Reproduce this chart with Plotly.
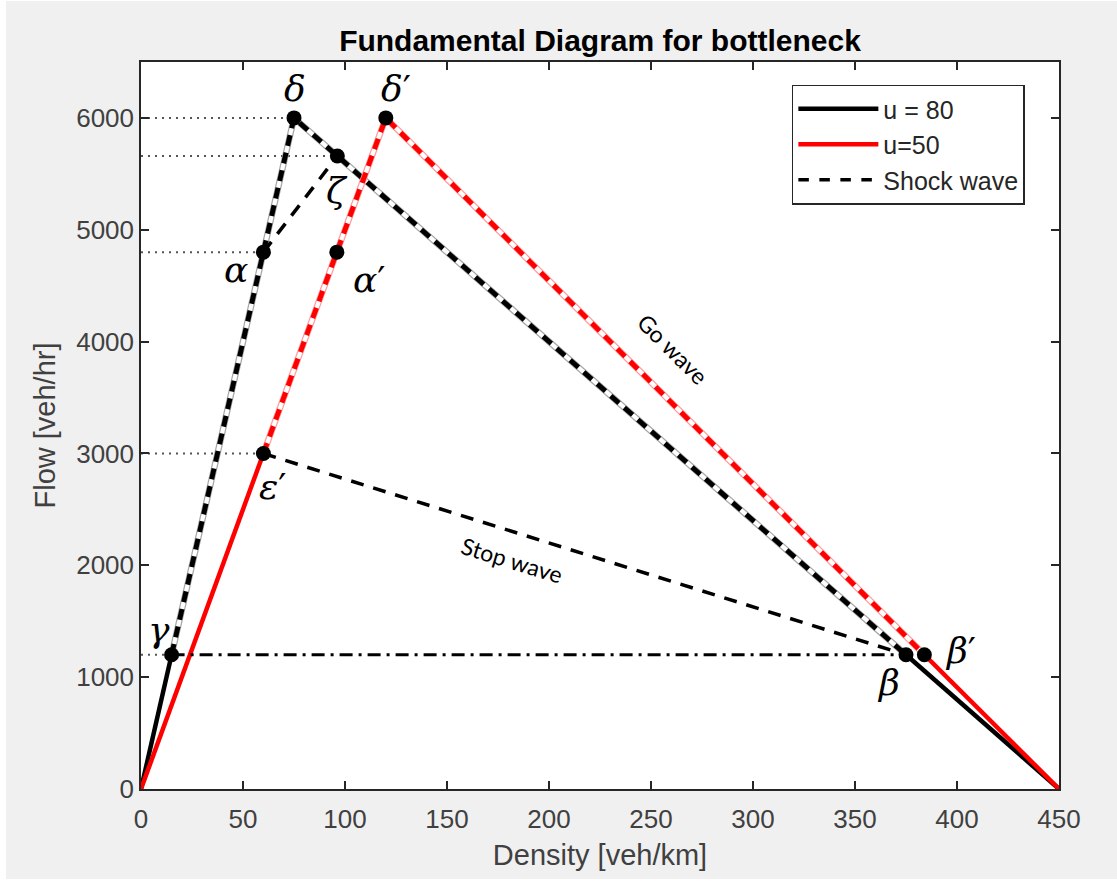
import plotly.graph_objects as go

# ---------------- data ----------------
u80_density = [0, 15, 75, 375, 450]
u80_flow = [0, 1200, 6000, 1200, 0]
u50_density = [0, 60, 120, 384, 450]
u50_flow = [0, 3000, 6000, 1200, 0]

point_names = ["γ", "α", "δ", "ζ", "δ′", "α′", "ε′", "β", "β′"]
point_density = [15, 60, 75, 96.25, 120, 96, 60, 375, 384]
point_flow = [1200, 4800, 6000, 5660, 6000, 4800, 3000, 1200, 1200]
label_shift_x = [-13, -27, 1, 0, 10, 33, 10, -18, 36]
label_shift_y = [25, -17, 29, -35, 29, -27, -33, -28, 4]

stop_density = [60, 375]
stop_flow = [3000, 1200]
alpha_zeta_density = [60, 96.25]
alpha_zeta_flow = [4800, 5660]
level_density = [15, 375]
level_flow = [1200, 1200]

guide_density = [75, 96.25, 60, 60, 15]
guide_flow = [6000, 5660, 4800, 3000, 1200]

x_ticks = [0, 50, 100, 150, 200, 250, 300, 350, 400, 450]
y_ticks = [0, 1000, 2000, 3000, 4000, 5000, 6000]

FONT = "Liberation Sans, Arial, sans-serif"
fig = go.Figure()

# dotted guides
for d, f in zip(guide_density, guide_flow):
    fig.add_trace(go.Scatter(x=[0, d], y=[f, f], mode="lines", showlegend=False,
                             line=dict(color="#555555", width=2, dash="2px,5px"),
                             hoverinfo="skip"))


def outlined(xs, ys, col, edge):
    fig.add_trace(go.Scatter(x=xs, y=ys, mode="lines", showlegend=False,
                             line=dict(color=edge, width=6.5), hoverinfo="skip"))
    fig.add_trace(go.Scatter(x=xs, y=ys, mode="lines", showlegend=False,
                             line=dict(color="white", width=4), hoverinfo="skip"))
    fig.add_trace(go.Scatter(x=xs, y=ys, mode="lines", showlegend=False,
                             line=dict(color=col, width=5, dash="11px,7px"), hoverinfo="skip"))


# u = 80 (black)
fig.add_trace(go.Scatter(x=u80_density[0:2], y=u80_flow[0:2], mode="lines", showlegend=False,
                         line=dict(color="black", width=4.5)))
fig.add_trace(go.Scatter(x=u80_density[3:5], y=u80_flow[3:5], mode="lines", showlegend=False,
                         line=dict(color="black", width=4.5)))
outlined(u80_density[1:4], u80_flow[1:4], "black", "#a8a8a8")

# u = 50 (red)
fig.add_trace(go.Scatter(x=u50_density[0:2], y=u50_flow[0:2], mode="lines", showlegend=False,
                         line=dict(color="#ff0000", width=4.5)))
fig.add_trace(go.Scatter(x=u50_density[3:5], y=u50_flow[3:5], mode="lines", showlegend=False,
                         line=dict(color="#ff0000", width=4.5)))
outlined(u50_density[1:4], u50_flow[1:4], "#ff0000", "#ff9d9d")

# shock waves
fig.add_trace(go.Scatter(x=stop_density, y=stop_flow, mode="lines", showlegend=False,
                         line=dict(color="black", width=3.5, dash="13px,10px")))
fig.add_trace(go.Scatter(x=alpha_zeta_density, y=alpha_zeta_flow, mode="lines", showlegend=False,
                         line=dict(color="black", width=3.5, dash="13px,10px")))
fig.add_trace(go.Scatter(x=level_density, y=level_flow, mode="lines", showlegend=False,
                         line=dict(color="black", width=3, dash="13px,6px,3px,6px")))

# points
fig.add_trace(go.Scatter(x=point_density, y=point_flow, mode="markers", showlegend=False,
                         marker=dict(color="black", size=15)))

# legend entries
fig.add_trace(go.Scatter(x=[None], y=[None], mode="lines", name="u = 80",
                         line=dict(color="black", width=4.5)))
fig.add_trace(go.Scatter(x=[None], y=[None], mode="lines", name="u=50",
                         line=dict(color="#ff0000", width=4.5)))
fig.add_trace(go.Scatter(x=[None], y=[None], mode="lines", name="Shock wave",
                         line=dict(color="black", width=3.5, dash="dash")))


def greek_label(name):
    # italic letter, upright prime
    return "<i>" + name[0] + "</i>" + name[1:]


annotations = []
for n, d, f, sx, sy in zip(point_names, point_density, point_flow, label_shift_x, label_shift_y):
    annotations.append(dict(x=d, y=f, xref="x", yref="y", text=greek_label(n),
                            showarrow=False, xshift=sx, yshift=sy,
                            font=dict(family="DejaVu Serif, Liberation Serif, serif", size=36, color="black")))
annotations.append(dict(x=260.8, y=3935, xref="x", yref="y", text="Go wave", showarrow=False,
                        textangle=45, font=dict(family="Lato, Noto Sans, sans-serif", size=23, color="black")))
annotations.append(dict(x=181.9, y=2050, xref="x", yref="y", text="Stop wave", showarrow=False,
                        textangle=17, font=dict(family="Lato, Noto Sans, sans-serif", size=23, color="black")))

# background frame (grey figure area, white plot area)
L, R, T, B = 141, 58, 62, 94
W, H = 1117, 883
pw, ph = W - L - R, H - T - B
shapes = [
    dict(type="rect", xref="paper", yref="paper", layer="below",
         x0=(6 - L) / pw, x1=(W - L) / pw, y0=(H - B - 879) / ph, y1=(H - B - 1) / ph,
         fillcolor="#f0f0f0", line=dict(width=0)),
    dict(type="rect", xref="paper", yref="paper", layer="below",
         x0=0, x1=1, y0=0, y1=1, fillcolor="white", line=dict(width=0)),
]

axis_common = dict(showgrid=False, zeroline=False, showline=True, linecolor="#262626", linewidth=1.5,
                   mirror="ticks", ticks="inside", ticklen=8, tickwidth=1.5, tickcolor="#262626",
                   tickfont=dict(family=FONT, size=26, color="#404040"))

fig.update_layout(
    width=W, height=H,
    margin=dict(l=L, r=R, t=T, b=B),
    paper_bgcolor="white", plot_bgcolor="white",
    shapes=shapes, annotations=annotations,
    title=dict(text="<b>Fundamental Diagram for bottleneck</b>", x=0.5, xref="paper",
               y=1 - 40 / H, yref="container", yanchor="middle", xanchor="center",
               font=dict(family=FONT, size=30, color="black")),
    xaxis=dict(range=[0, 450], tickvals=x_ticks, ticktext=[str(v) for v in x_ticks],
               ticklabelstandoff=6,
               title=dict(text="Density [veh/km]", font=dict(family=FONT, size=29, color="#404040"), standoff=12),
               **axis_common),
    yaxis=dict(range=[0, 6500], tickvals=y_ticks, ticktext=[str(v) for v in y_ticks],
               title=dict(text="Flow [veh/hr]", font=dict(family=FONT, size=29, color="#404040"), standoff=12),
               **axis_common),
    legend=dict(x=0.709, y=0.969, xanchor="left", yanchor="top", bgcolor="white",
                bordercolor="#262626", borderwidth=1.5, itemwidth=80,
                font=dict(family=FONT, size=25, color="#262626"), tracegroupgap=0),
    showlegend=True,
)

fig.write_html("out.html")
